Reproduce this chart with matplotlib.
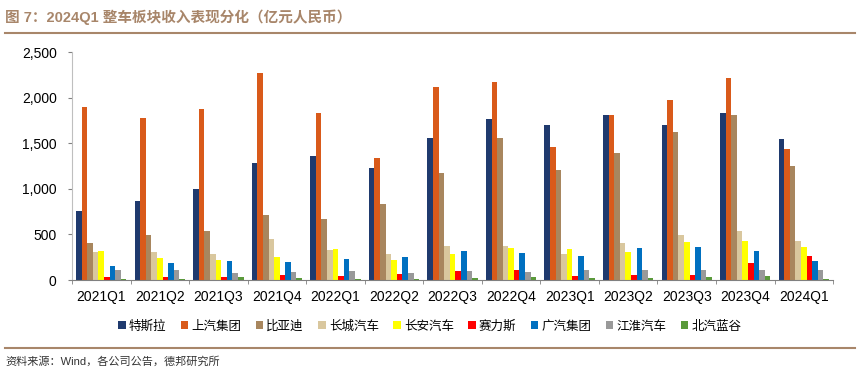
import numpy as np
import matplotlib.pyplot as plt
from matplotlib.lines import Line2D

plt.rcParams['font.family'] = ['Liberation Sans', 'Noto Sans CJK SC', 'DejaVu Sans']

# ---------------------------------------------------------------
# data (亿元人民币)
# ---------------------------------------------------------------
quarters = ["2021Q1", "2021Q2", "2021Q3", "2021Q4", "2022Q1", "2022Q2", "2022Q3",
            "2022Q4", "2023Q1", "2023Q2", "2023Q3", "2023Q4", "2024Q1"]

tesla = [759, 869, 1001, 1287, 1364, 1232, 1562, 1767, 1697, 1811, 1697, 1829, 1547]
saic = [1892, 1771, 1870, 2273, 1826, 1338, 2115, 2170, 1459, 1807, 1969, 2218, 1433]
byd = [407, 495, 539, 711, 667, 836, 1173, 1562, 1202, 1397, 1624, 1804, 1250]
gwm = [308, 308, 286, 451, 334, 282, 370, 374, 286, 407, 495, 535, 429]
changan = [319, 246, 224, 253, 341, 220, 286, 356, 341, 308, 422, 429, 367]
seres = [33, 37, 37, 51, 44, 66, 103, 110, 44, 55, 51, 187, 264]
gac = [158, 183, 209, 198, 231, 253, 315, 293, 260, 348, 359, 315, 213]
jac = [114, 106, 81, 92, 99, 77, 99, 84, 106, 114, 114, 110, 110]
baic = [7, 15, 29, 22, 11, 11, 18, 33, 18, 26, 29, 44, 11]

series_names = ["特斯拉", "上汽集团", "比亚迪", "长城汽车", "长安汽车",
                "赛力斯", "广汽集团", "江淮汽车", "北汽蓝谷"]
series_values = [tesla, saic, byd, gwm, changan, seres, gac, jac, baic]
series_colors = ["#1f3a6e", "#d95a1a", "#a8865e", "#d9c79e", "#ffff00",
                 "#ff0000", "#0070c0", "#999999", "#5a9a3a"]

BROWN = "#a8866a"

# ---------------------------------------------------------------
# figure
# ---------------------------------------------------------------
fig = plt.figure(figsize=(8.61, 3.75), dpi=100)
ax = fig.add_axes([0.0836, 0.2533, 0.884, 0.608])

x = np.arange(len(quarters))
n = len(series_values)
group_w = 0.86
bar_w = group_w / n

for i, (name, vals, col) in enumerate(zip(series_names, series_values, series_colors)):
    offs = -group_w / 2 + bar_w * (i + 0.5)
    ax.bar(x + offs, vals, width=bar_w, color=col, label=name, linewidth=0)

ax.set_xlim(-0.5, len(quarters) - 0.5)
ax.set_ylim(0, 2500)
ax.set_yticks(np.arange(0, 2501, 500))
ax.set_yticklabels([f"{v:,}" for v in range(0, 2501, 500)], fontsize=10)

# category labels, with boundary ticks between groups
ax.set_xticks(x)
ax.set_xticklabels(quarters, fontsize=10)
ax.tick_params(axis='x', length=0, pad=7)
ax.set_xticks(np.arange(-0.5, len(quarters)), minor=True)
ax.tick_params(axis='x', which='minor', length=3, color="#808080")
ax.tick_params(axis='y', length=3, color="#808080", pad=8)

for s in ["top", "right"]:
    ax.spines[s].set_visible(False)
ax.spines["left"].set_color("#bfbfbf")
ax.spines["bottom"].set_color("#808080")

# legend
leg = ax.legend(loc="upper center", bbox_to_anchor=(0.47, -0.125), ncol=9, frameon=False,
                handlelength=0.6, handleheight=0.6, handletextpad=0.25, columnspacing=1.15,
                prop={'family': ['Noto Sans CJK SC'], 'size': 9})

# title, rules and source
fig.text(0.006, 0.953, "图 7：2024Q1 整车板块收入表现分化（亿元人民币）", fontsize=10.5,
         fontweight="bold", color=BROWN, ha="left", va="center",
         family=['Liberation Sans', 'Noto Sans CJK SC'])
fig.add_artist(Line2D([0.006, 0.993], [0.912, 0.912], color=BROWN, linewidth=1.5))
fig.add_artist(Line2D([0.006, 0.993], [0.072, 0.072], color=BROWN, linewidth=1.5))
fig.text(0.006, 0.035, "资料来源：Wind，各公司公告，德邦研究所", fontsize=8,
         color="#333333", ha="left", va="center",
         family=['Liberation Sans', 'Noto Sans CJK SC'])

fig.savefig("out.png", dpi=100)
